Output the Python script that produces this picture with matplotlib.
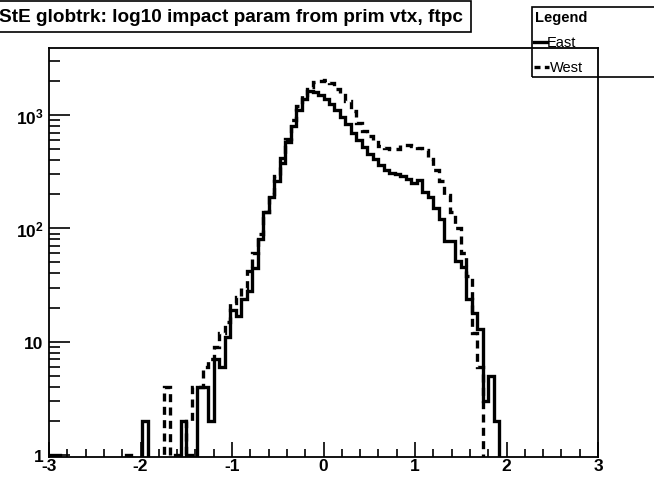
import numpy as np
import matplotlib
matplotlib.use("Agg")
import matplotlib.pyplot as plt
from matplotlib.patches import Rectangle
from matplotlib.lines import Line2D
from matplotlib.ticker import FixedLocator, FixedFormatter, MultipleLocator

plt.rcParams['font.family'] = ['Liberation Sans', 'DejaVu Sans']
plt.rcParams['mathtext.fontset'] = 'custom'
plt.rcParams['mathtext.bf'] = 'Liberation Sans:bold'
plt.rcParams['mathtext.rm'] = 'Liberation Sans:bold'
plt.rcParams['axes.unicode_minus'] = False

title = "StE globtrk: log10 impact param from prim vtx, ftpc"

# 100 bins from -3 to 3
edges = np.linspace(-3, 3, 101)

east = [1, 1, 0, 0, 0, 0, 0, 0, 0, 0,
        0, 0, 0, 0, 1, 0, 0, 2, 0, 0,
        0, 0, 0, 1, 2, 1, 0, 4, 4, 2,
        7, 6, 11, 19, 17, 24, 28, 45, 80, 140,
        190, 260, 380, 580, 800, 1100, 1380, 1620, 1600, 1500,
        1380, 1250, 1100, 960, 830, 700, 600, 520, 450, 410,
        360, 330, 310, 300, 290, 275, 250, 265, 210, 190,
        150, 122, 78, 77, 52, 46, 24, 18, 13, 3,
        5, 2, 0, 0, 0, 0, 0, 0, 0, 0,
        0, 0, 0, 0, 0, 0, 0, 0, 0, 0]

west = [0, 0, 0, 0, 0, 0, 0, 0, 0, 0,
        0, 0, 0, 0, 0, 0, 0, 0, 0, 0,
        0, 4, 0, 0, 0, 2, 4, 4, 6, 7,
        9, 12, 15, 22, 25, 30, 42, 60, 90, 140,
        200, 290, 420, 620, 900, 1200, 1500, 1750, 1950, 2000,
        2050, 1900, 1700, 1550, 1320, 1090, 850, 720, 650, 600,
        530, 510, 500, 500, 540, 540, 530, 510, 490, 410,
        325, 260, 195, 140, 100, 60, 38, 12, 6, 0,
        0, 0, 0, 0, 0, 0, 0, 0, 0, 0,
        0, 0, 0, 0, 0, 0, 0, 0, 0, 0]

ytick_vals = [1, 10, 100, 1000]
ytick_labels = ['1', '10', r'$\mathbf{10^{2}}$', r'$\mathbf{10^{3}}$']

W, H = 654, 481
fig = plt.figure(figsize=(W / 100, H / 100), dpi=100)
ax = fig.add_axes([49 / W, 1 - 458 / H, (598 - 49) / W, (458 - 49) / H])

def floor_zero(v):
    v = np.asarray(v, dtype=float)
    return np.where(v > 0, v, 1e-3)

ax.stairs(floor_zero(east), edges, color='black', lw=2.4)
ax.stairs(floor_zero(west), edges, color='black', lw=2.4, linestyle=(0, (2.4, 1.6)))

ax.set_yscale('log')
ax.set_xlim(-3, 3)
ax.set_ylim(0.96, 3900)

ax.xaxis.set_major_locator(MultipleLocator(1))
ax.xaxis.set_minor_locator(MultipleLocator(0.2))
ax.yaxis.set_major_locator(FixedLocator(ytick_vals))
ax.yaxis.set_major_formatter(FixedFormatter(ytick_labels))
ax.tick_params(axis='both', which='both', direction='in', top=False, right=False)
ax.tick_params(axis='x', which='major', length=11, width=1.2, pad=1, labelsize=12.5)
ax.tick_params(axis='x', which='minor', length=6, width=1.2)
ax.tick_params(axis='y', which='major', length=15, width=1.2, pad=4, labelsize=12.5)
ax.tick_params(axis='y', which='minor', length=8, width=1.2)
for lab in ax.get_xticklabels() + ax.get_yticklabels():
    lab.set_fontweight('bold')
for sp in ax.spines.values():
    sp.set_linewidth(1.3)

# title box
fig.patches.append(Rectangle((-5 / W, 1 - 33 / H), 476 / W, 31 / H,
                             transform=fig.transFigure, fill=True, fc='white',
                             ec='black', lw=1.2))
fig.text(463 / W, 1 - 17 / H, title, ha='right', va='center',
         fontsize=13.7, fontweight='bold')

# legend box (no fill, frame shows through)
fig.patches.append(Rectangle((532 / W, 1 - 78 / H), 130 / W, 70 / H,
                             transform=fig.transFigure, fill=False,
                             ec='black', lw=1.2))
fig.text(535 / W, 1 - 18 / H, "Legend", ha='left', va='center',
         fontsize=10.5, fontweight='bold')
fig.lines.append(Line2D([534 / W, 547 / W], [1 - 43 / H, 1 - 43 / H],
                        transform=fig.transFigure, color='black', lw=2.4))
fig.text(547 / W, 1 - 43 / H, "East", ha='left', va='center', fontsize=10.5)
fig.lines.append(Line2D([534 / W, 549 / W], [1 - 68 / H, 1 - 68 / H],
                        transform=fig.transFigure, color='black', lw=2.4,
                        linestyle=(0, (1.8, 1.3))))
fig.text(550 / W, 1 - 68 / H, "West", ha='left', va='center', fontsize=10.5)

fig.savefig('out.png', dpi=100)
